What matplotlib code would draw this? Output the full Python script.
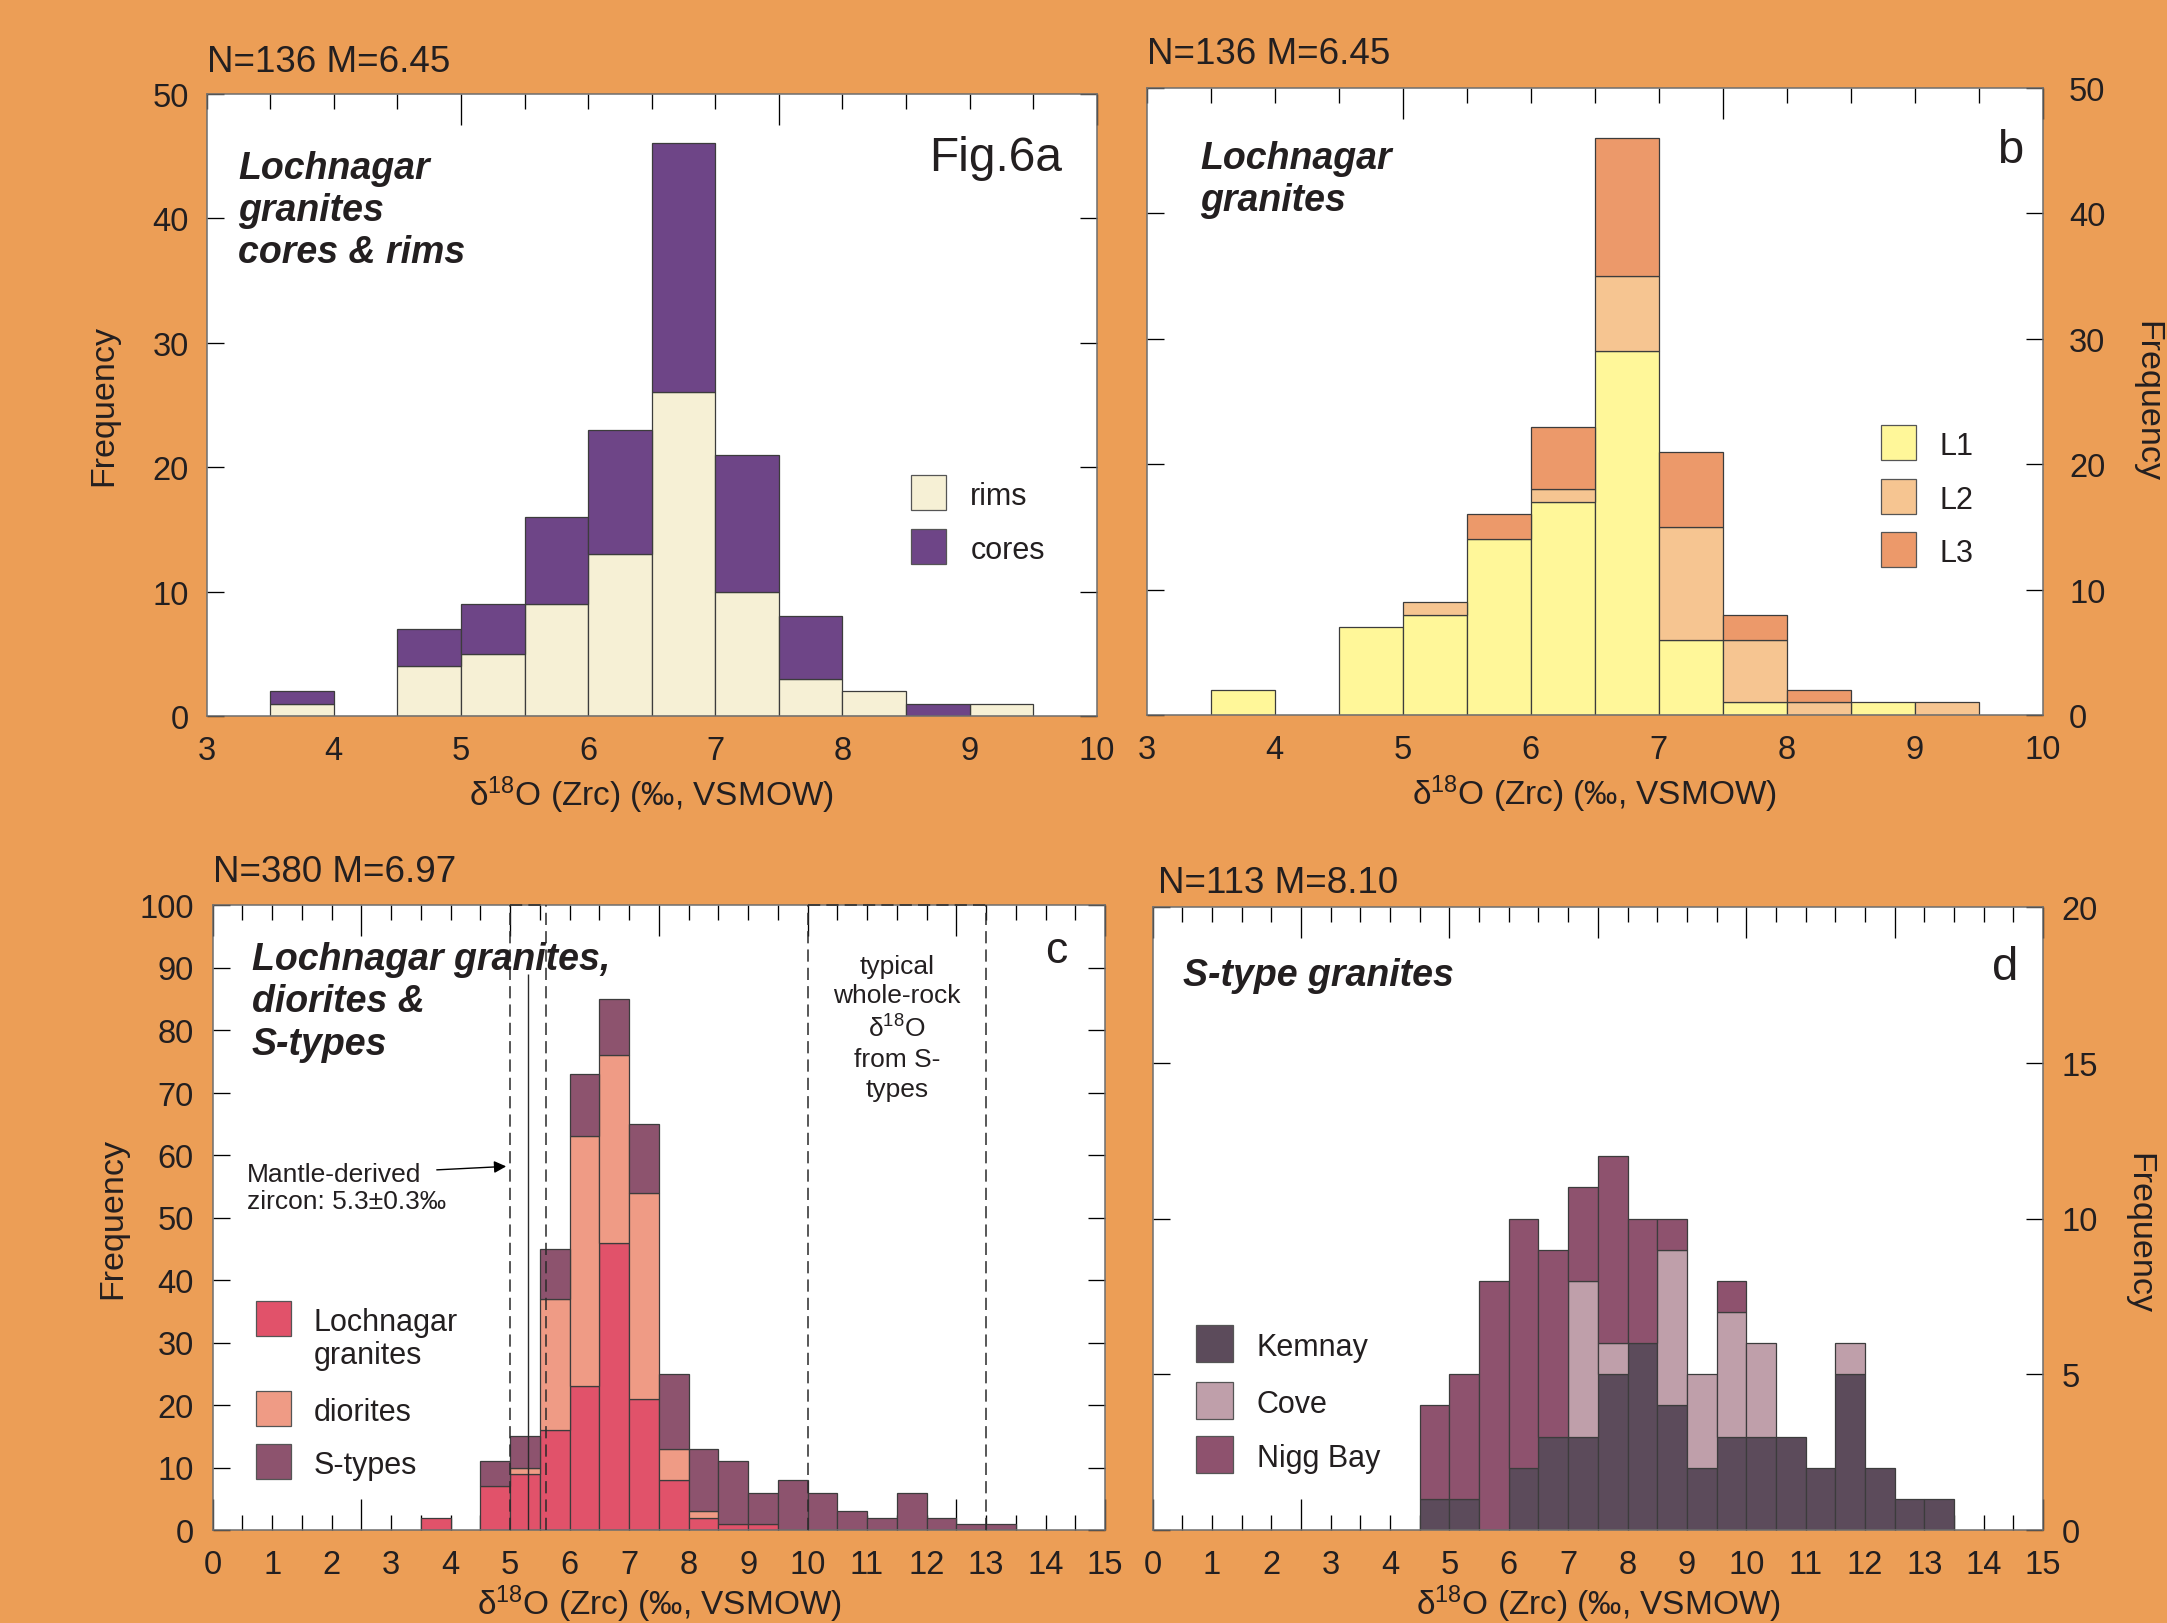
import numpy as np
import matplotlib
matplotlib.use("Agg")
import matplotlib.pyplot as plt
from matplotlib.patches import Rectangle
from matplotlib.ticker import MultipleLocator, NullFormatter


# Data (counts per 0.5 permil bin, bin left edges)

AB_BINS = [3.5, 4.0, 4.5, 5.0, 5.5, 6.0, 6.5, 7.0, 7.5, 8.0, 8.5, 9.0]
RIMS = [1, 0, 4, 5, 9, 13, 26, 10, 3, 2, 0, 1]
CORES = [1, 0, 3, 4, 7, 10, 20, 11, 5, 0, 1, 0]
L1 = [2, 0, 7, 8, 14, 17, 29, 6, 1, 0, 1, 0]
L2 = [0, 0, 0, 1, 0, 1, 6, 9, 5, 1, 0, 1]
L3 = [0, 0, 0, 0, 2, 5, 11, 6, 2, 1, 0, 0]

CD_BINS = [3.5, 4.0, 4.5, 5.0, 5.5, 6.0, 6.5, 7.0, 7.5, 8.0,
           8.5, 9.0, 9.5, 10.0, 10.5, 11.0, 11.5, 12.0, 12.5, 13.0]
LOCHNAGAR = [2, 0, 7, 9, 16, 23, 46, 21, 8, 2, 1, 1, 0, 0, 0, 0, 0, 0, 0, 0]
DIORITES = [0, 0, 0, 1, 21, 40, 30, 33, 5, 1, 0, 0, 0, 0, 0, 0, 0, 0, 0, 0]
KEMNAY = [0, 0, 1, 1, 0, 2, 3, 3, 5, 6, 4, 2, 3, 3, 3, 2, 5, 2, 1, 1]
COVE = [0, 0, 0, 0, 0, 0, 0, 5, 1, 0, 5, 3, 4, 3, 0, 0, 1, 0, 0, 0]
NIGG_BAY = [0, 0, 3, 4, 8, 8, 6, 3, 6, 4, 1, 0, 1, 0, 0, 0, 0, 0, 0, 0]
S_TYPES = list(np.array(KEMNAY) + np.array(COVE) + np.array(NIGG_BAY))

AB_XTICKS = [3, 4, 5, 6, 7, 8, 9, 10]
CD_XTICKS = list(range(0, 16))


# Style

W, H, DPI = 2167, 1624, 100
BG = "#ec9e56"
INK = "#231f20"
EDGE = "#3c3c3c"
SPINE = "#6e6e6e"
XLABEL = r"δ$^{18}$O (Zrc) (‰, VSMOW)"
TICK_FS = 23.5
TITLE_FS = 27
NM_FS = 26.5
FREQ_FS = 24.5
KEY_FS = 22

plt.rcParams["font.family"] = ["Liberation Sans", "DejaVu Sans"]
plt.rcParams["mathtext.fontset"] = "custom"
plt.rcParams["mathtext.rm"] = "Liberation Sans"
plt.rcParams["mathtext.default"] = "regular"
plt.rcParams["text.color"] = INK


# Functions

def make_axes(fig, left, top, right, bottom):
    """Axes placed with pixel edges of the reference picture"""
    ax = fig.add_axes([left / W, 1 - bottom / H, (right - left) / W, (bottom - top) / H])
    ax.set_facecolor("white")
    for s in ax.spines.values():
        s.set_color(SPINE)
        s.set_linewidth(1.1)
    return ax


def stack_bars(ax, bins, series, colors):
    bottom = np.zeros(len(bins))
    for values, color in zip(series, colors):
        values = np.array(values, dtype=float)
        edges = [EDGE if v > 0 else "none" for v in values]
        ax.bar(bins, values, width=0.5, align="edge", bottom=bottom,
               color=color, edgecolor=edges, linewidth=0.9, zorder=2)
        bottom += values


def style_axes(ax, xlim, xticks, ylim, ystep, label_side, ypad, bottom_ticks, h_px, label_off=78):
    ax.set_xlim(*xlim)
    ax.set_ylim(*ylim)
    ax.set_xticks(xticks)
    ax.tick_params(axis="x", length=0, pad=14, labelsize=TICK_FS, labelcolor=INK)
    ax.yaxis.set_major_locator(MultipleLocator(ystep))
    ax.tick_params(axis="y", direction="in", length=12, width=0.95, color="k",
                   left=True, right=True, labelsize=TICK_FS, labelcolor=INK, pad=ypad,
                   labelleft=(label_side == "left"), labelright=(label_side == "right"))
    sides = ["top", "bottom"] if bottom_ticks else ["top"]
    for side in sides:
        sec = ax.secondary_xaxis(side)
        sec.xaxis.set_major_locator(MultipleLocator(2.5))
        sec.xaxis.set_minor_locator(MultipleLocator(0.5))
        sec.xaxis.set_major_formatter(NullFormatter())
        sec.tick_params(axis="x", which="major", direction="in", length=22, width=0.95, color="k")
        sec.tick_params(axis="x", which="minor", direction="in", length=11, width=0.95, color="k")
        for s in sec.spines.values():
            s.set_visible(False)
    ax.text(0.5, -label_off / h_px, XLABEL, transform=ax.transAxes, ha="center", va="center",
            fontsize=24)


def draw_key(ax, x, tops, w, h, text_x, labels, colors, line_step=0.053):
    for top, label, color in zip(tops, labels, colors):
        ax.add_patch(Rectangle((x, top - h), w, h, transform=ax.transAxes,
                               facecolor=color, edgecolor="#555555", linewidth=0.9, zorder=5))
        for i, line in enumerate(label.split("\n")):
            ax.text(text_x, top - h / 2 - i * line_step, line, transform=ax.transAxes, ha="left",
                    va="center_baseline", fontsize=KEY_FS, zorder=5)


def title(ax, x, y, text):
    ax.text(x, y, text, transform=ax.transAxes, ha="left", va="top", fontsize=TITLE_FS,
            fontweight="bold", fontstyle="italic", linespacing=1.22, zorder=4)


# Figure

fig = plt.figure(figsize=(W / DPI, H / DPI), dpi=DPI, facecolor=BG)

# a: cores & rims
ax_a = make_axes(fig, 206.7, 94.7, 1096.7, 717)
stack_bars(ax_a, AB_BINS, [RIMS, CORES], ["#f6f0d5", "#6e4587"])
style_axes(ax_a, (3, 10), AB_XTICKS, (0, 50), 10, "left", 13, False, 622.3)
title(ax_a, 0.035, 0.91, "Lochnagar\ngranites\ncores & rims")
ax_a.text(0.9616, 0.878, "Fig.6a", transform=ax_a.transAxes, ha="right", va="baseline", fontsize=34.5)
ax_a.text(0.0, 1.037, "N=136 M=6.45", transform=ax_a.transAxes, ha="left", va="baseline", fontsize=NM_FS)
ax_a.text(-0.1154, 0.5, "Frequency", transform=ax_a.transAxes, rotation=90,
          ha="center", va="center", fontsize=FREQ_FS)
draw_key(ax_a, 0.791, [0.3876, 0.3011], 0.0393, 0.0562, 0.858, ["rims", "cores"],
         ["#f6f0d5", "#6e4587"])

# b: L1-L3
ax_b = make_axes(fig, 1146.7, 89, 2042.7, 716)
stack_bars(ax_b, AB_BINS, [L1, L2, L3], ["#fff799", "#f6c591", "#ec996a"])
style_axes(ax_b, (3, 10), AB_XTICKS, (0, 50), 10, "right", 19, False, 627)
title(ax_b, 0.0595, 0.917, "Lochnagar\ngranites")
ax_b.text(0.9635, 0.8825, "b", transform=ax_b.transAxes, ha="center", va="baseline", fontsize=34)
ax_b.text(0.0, 1.0394, "N=136 M=6.45", transform=ax_b.transAxes, ha="left", va="baseline", fontsize=NM_FS)
ax_b.text(1.116, 0.502, "Frequency", transform=ax_b.transAxes, rotation=270,
          ha="center", va="center", fontsize=FREQ_FS)
draw_key(ax_b, 0.8195, [0.4625, 0.3769, 0.2919], 0.039, 0.0558, 0.885, ["L1", "L2", "L3"],
         ["#fff799", "#f6c591", "#ec996a"])

# c: all samples
ax_c = make_axes(fig, 212.7, 906, 1105, 1531)
stack_bars(ax_c, CD_BINS, [LOCHNAGAR, DIORITES, S_TYPES], ["#e1526a", "#ef9b85", "#8d536e"])
style_axes(ax_c, (0, 15), CD_XTICKS, (0, 100), 10, "left", 13.5, True, 625, label_off=73)
ax_c.vlines([5.0, 5.6, 10.0, 13.0], 0, 100, colors="#2a2a2a", linewidth=1.1,
            linestyles=(0, (8, 4)), zorder=3)
ax_c.hlines([100, 100], [5.0, 10.0], [5.6, 13.0], colors="#2a2a2a", linewidth=1.1,
            linestyles=(0, (8, 4)), zorder=3, clip_on=False)
ax_c.vlines(5.3, 0, 89, colors="#2a2a2a", linewidth=1.0, zorder=3)
title(ax_c, 0.0435, 0.942, "Lochnagar granites,\ndiorites &\nS-types")
ax_c.text(0.945, 0.909, "c", transform=ax_c.transAxes, ha="center", va="baseline", fontsize=32)
ax_c.text(0.0, 1.039, "N=380 M=6.97", transform=ax_c.transAxes, ha="left", va="baseline", fontsize=NM_FS)
ax_c.text(-0.1117, 0.5, "Frequency", transform=ax_c.transAxes, rotation=90,
          ha="center", va="center", fontsize=FREQ_FS)
ax_c.text(0.57, 58.8, "Mantle-derived\nzircon: 5.3±0.3‰", ha="left", va="top", fontsize=19,
          linespacing=1.15)
ax_c.annotate("", xy=(4.98, 58.2), xytext=(3.72, 57.6),
              arrowprops=dict(arrowstyle="-|>", color="k", lw=1.0, mutation_scale=18))
ax_c.text(11.5, 92.2, "typical\nwhole-rock\nδ$^{18}$O\nfrom S-\ntypes", ha="center", va="top",
          fontsize=19, linespacing=1.3)
draw_key(ax_c, 0.0483, [0.3658, 0.2224, 0.137], 0.0392, 0.056, 0.113,
         ["Lochnagar\ngranites", "diorites", "S-types"], ["#e1526a", "#ef9b85", "#8d536e"])

# d: S-types
ax_d = make_axes(fig, 1152.7, 908, 2043, 1531)
stack_bars(ax_d, CD_BINS, [KEMNAY, COVE, NIGG_BAY], ["#5c4b5b", "#bf9faa", "#8e526e"])
style_axes(ax_d, (0, 15), CD_XTICKS, (0, 20), 5, "right", 13.5, True, 623, label_off=73)
title(ax_d, 0.0345, 0.92, "S-type granites")
ax_d.text(0.957, 0.884, "d", transform=ax_d.transAxes, ha="center", va="baseline", fontsize=34)
ax_d.text(0.006, 1.024, "N=113 M=8.10", transform=ax_d.transAxes, ha="left", va="baseline", fontsize=NM_FS)
ax_d.text(1.108, 0.477, "Frequency", transform=ax_d.transAxes, rotation=270,
          ha="center", va="center", fontsize=FREQ_FS)
draw_key(ax_d, 0.0486, [0.329, 0.2382, 0.151], 0.0416, 0.0594, 0.117,
         ["Kemnay", "Cove", "Nigg Bay"], ["#5c4b5b", "#bf9faa", "#8e526e"])

fig.savefig("out.png", dpi=DPI, facecolor=BG)
